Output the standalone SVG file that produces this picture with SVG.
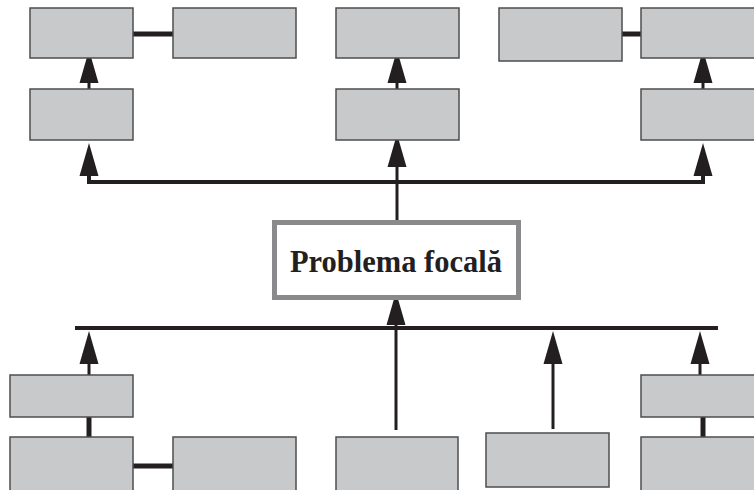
<svg xmlns="http://www.w3.org/2000/svg" xmlns:xlink="http://www.w3.org/1999/xlink" width="754" height="490" viewBox="0 0 754 490">
<style>
.box{fill:#c8c9cb;stroke:#4d4d4f;stroke-width:1.5}
.focal{fill:#ffffff;stroke:#8a8a8c;stroke-width:5}
.bar{stroke:#231f20;stroke-width:4;fill:none}
.shaft{stroke:#231f20;stroke-width:3;fill:none}
.link{stroke:#231f20;stroke-width:5;fill:none}
.ah{fill:#231f20}
.lbl{font-family:"Liberation Serif","Times New Roman",serif;font-weight:bold;font-size:30.5px;fill:#231f20}
</style>
<defs>
<path id="ah" d="M0,0 L-9.5,33 L9.5,33 Z"/>
</defs>
<rect x="0" y="0" width="754" height="490" fill="#ffffff"/>
<g id="connectors">
<line class="link" x1="133" y1="34" x2="173" y2="34"/>
<line class="shaft" x1="89" y1="80" x2="89" y2="89"/>
<use href="#ah" class="ah" x="89" y="50"/>
<line class="shaft" x1="397" y1="80" x2="397" y2="89"/>
<use href="#ah" class="ah" x="397" y="50"/>
<line class="link" x1="622" y1="34" x2="641" y2="34"/>
<line class="shaft" x1="703" y1="80" x2="703" y2="89"/>
<use href="#ah" class="ah" x="703" y="50"/>
<polyline class="bar" points="89,170 89,182 703,182 703,170"/>
<use href="#ah" class="ah" x="89" y="143"/>
<use href="#ah" class="ah" x="703" y="143"/>
<line class="shaft" x1="397" y1="165" x2="397" y2="220"/>
<use href="#ah" class="ah" x="397" y="134"/>
<line class="bar" x1="75" y1="328" x2="718" y2="328"/>
<line class="shaft" x1="396" y1="320" x2="396" y2="430"/>
<use href="#ah" class="ah" x="396" y="292"/>
<line class="shaft" x1="89" y1="360" x2="89" y2="375"/>
<use href="#ah" class="ah" x="89" y="331"/>
<line class="shaft" x1="553" y1="360" x2="553" y2="429"/>
<use href="#ah" class="ah" x="553" y="331"/>
<line class="shaft" x1="700" y1="360" x2="700" y2="375"/>
<use href="#ah" class="ah" x="700" y="331"/>
<line class="link" x1="89" y1="417" x2="89" y2="437"/>
<line class="link" x1="133" y1="466" x2="173" y2="466"/>
<line class="link" x1="703" y1="417" x2="703" y2="437"/>
</g>
<g id="node-t1"><rect class="box" x="30" y="8" width="103" height="50"/></g>
<g id="node-t2"><rect class="box" x="173" y="8" width="123" height="50"/></g>
<g id="node-t3"><rect class="box" x="30" y="89" width="103" height="51"/></g>
<g id="node-t4"><rect class="box" x="336" y="8" width="123" height="50"/></g>
<g id="node-t5"><rect class="box" x="336" y="89" width="123" height="51"/></g>
<g id="node-t6"><rect class="box" x="499" y="8" width="123" height="53"/></g>
<g id="node-t7"><rect class="box" x="641" y="8" width="115" height="50"/></g>
<g id="node-t8"><rect class="box" x="641" y="89" width="115" height="51"/></g>
<g id="node-focal">
<rect class="focal" x="274.5" y="222.5" width="244" height="75"/>
<text class="lbl" x="396" y="272" text-anchor="middle">Problema focală</text>
</g>
<g id="node-b1"><rect class="box" x="10" y="375" width="123" height="42"/></g>
<g id="node-b2"><rect class="box" x="10" y="437" width="123" height="55"/></g>
<g id="node-b3"><rect class="box" x="173" y="437" width="123" height="55"/></g>
<g id="node-b4"><rect class="box" x="336" y="437" width="122" height="55"/></g>
<g id="node-b5"><rect class="box" x="486" y="433" width="123" height="54"/></g>
<g id="node-b6"><rect class="box" x="641" y="375" width="115" height="42"/></g>
<g id="node-b7"><rect class="box" x="641" y="437" width="115" height="55"/></g>
</svg>
